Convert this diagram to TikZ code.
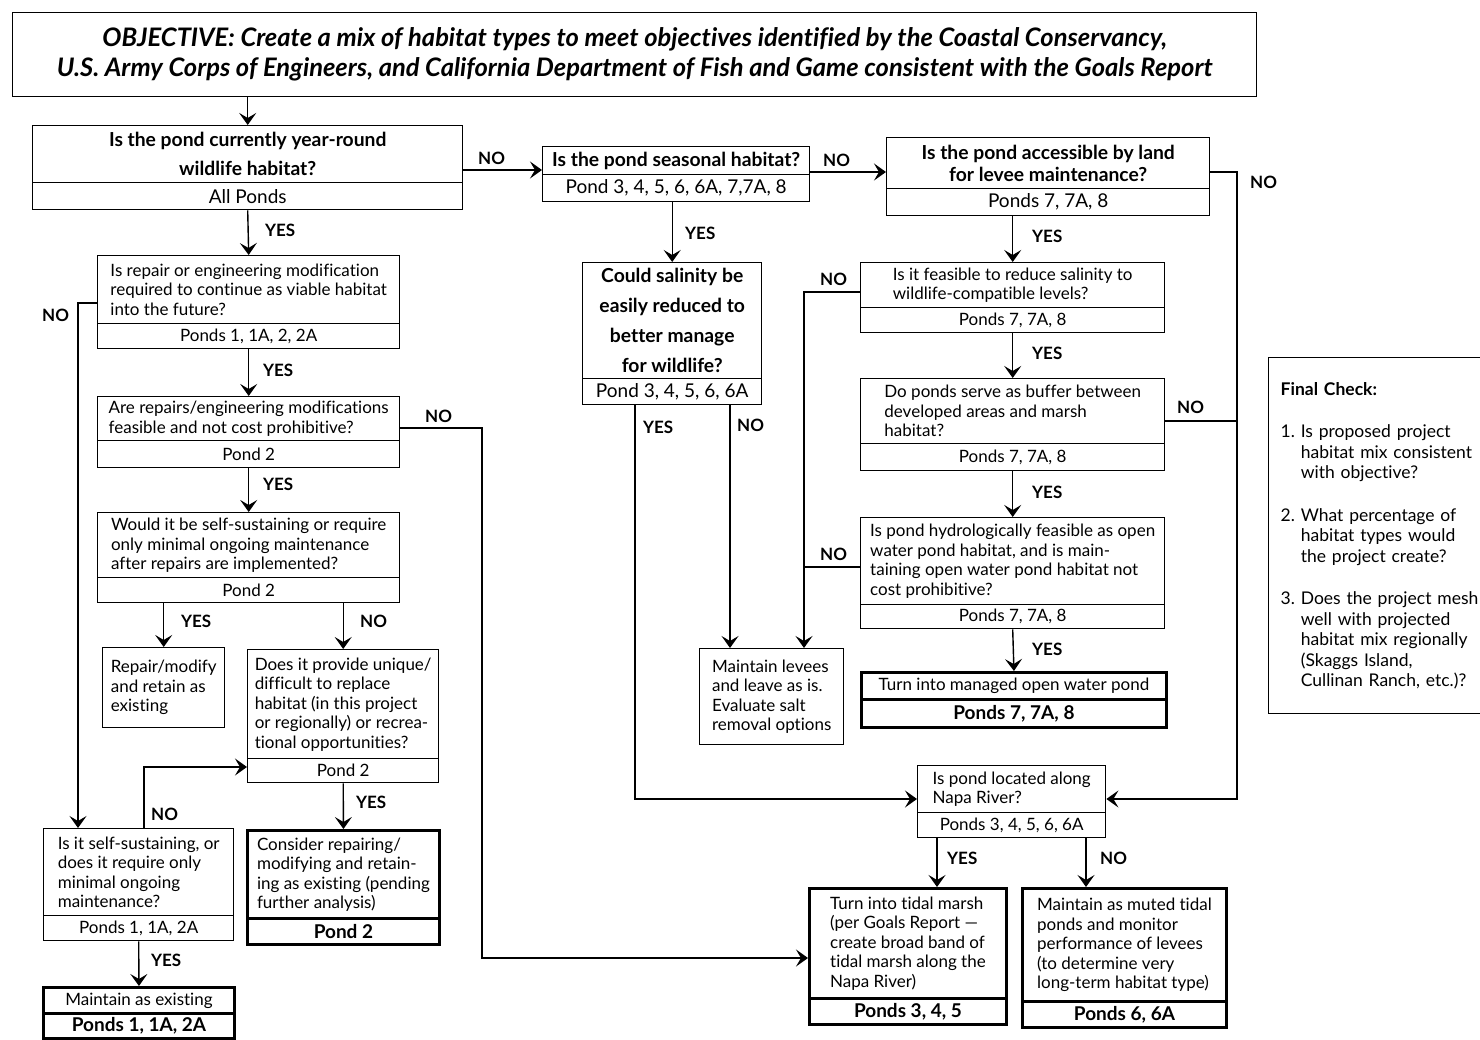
\documentclass[tikz,border=0pt]{standalone}
\usepackage{fontspec}
\setmainfont{Lato}[Ligatures={TeX,NoCommon}]
\usetikzlibrary{arrows.meta,calc}
\newcommand\mkbox[7]{%
  \pgfmathsetmacro\mkw{#4-#2}\pgfmathsetmacro\mkh{#5-#3}%
  \node[box,#6,anchor=north west,minimum width=\mkw pt,minimum height=\mkh pt] (#1) at (#2,#3) {#7};}
\begin{document}
\begin{tikzpicture}[x=1pt,y=-1pt,
  box/.style={draw,line width=1.4pt,inner sep=0pt,font=\fontsize{17}{19.5}\selectfont,align=left},
  ttl/.style={font=\bfseries\fontsize{19.3}{22}\selectfont,align=center},
  pnd/.style={font=\fontsize{17}{18}\selectfont,align=center},
  bigpnd/.style={font=\fontsize{19}{20}\selectfont,align=center},
  bpnd/.style={font=\bfseries\fontsize{19}{20}\selectfont,align=center},
  thk/.style={line width=2.9pt},
  ln/.style={line width=1.4pt},
  arr/.style={line width=1.4pt,-{Stealth[length=12pt,width=17pt,inset=5pt]}},
  lbl/.style={font=\bfseries\fontsize{17}{17}\selectfont,inner sep=0pt,anchor=west}]
\useasboundingbox[fill=white] (0,0) rectangle (1480,1040);

% objective
\mkbox{obj}{12}{12}{1256}{96}{font=\bfseries\itshape\fontsize{25.5}{30}\selectfont,align=center}{OBJECTIVE: Create a mix of habitat types to meet objectives identified by the Coastal Conservancy,\\U.S. Army Corps of Engineers, and California Department of Fish and Game consistent with the Goals Report}

% left column
\mkbox{Aq}{32}{125}{462}{182}{ttl,font=\bfseries\fontsize{19.3}{29}\selectfont}{Is the pond currently year-round\\wildlife habitat?}
\mkbox{Ap}{32}{182}{462}{209}{bigpnd}{All Ponds}
\mkbox{Dq}{97}{255}{399}{323}{}{Is repair or engineering modification\\required to continue as viable habitat\\into the future?}
\mkbox{Dp}{97}{323}{399}{348}{pnd}{Ponds 1, 1A, 2, 2A}
\mkbox{Eq}{97}{396}{399}{440}{}{Are repairs/engineering modifications\\feasible and not cost prohibitive?}
\mkbox{Ep}{97}{440}{399}{467}{pnd}{Pond 2}
\mkbox{Fq}{97}{512}{399}{577}{}{Would it be self-sustaining or require\\only minimal ongoing maintenance\\after repairs are implemented?}
\mkbox{Fp}{97}{577}{399}{602}{pnd}{Pond 2}
\mkbox{G}{102}{647}{224}{727}{}{Repair/modify\\and retain as\\existing}
\mkbox{Hq}{247}{649}{438}{758}{}{Does it provide unique/\\difficult to replace\\habitat (in this project\\or regionally) or recrea-\\tional opportunities?}
\mkbox{Hp}{247}{758}{438}{782}{pnd}{Pond 2}
\mkbox{Iq}{246}{829}{438}{917}{thk}{Consider repairing/\\modifying and retain-\\ing as existing (pending\\further analysis)}
\mkbox{Ip}{246}{917}{438}{943}{thk,bpnd}{Pond 2}
\mkbox{Jq}{43}{828}{233}{915}{}{Is it self-sustaining, or\\does it require only\\minimal ongoing\\maintenance?}
\mkbox{Jp}{43}{915}{233}{940}{pnd}{Ponds 1, 1A, 2A}
\mkbox{Kq}{42}{986}{233}{1012}{thk,align=center}{Maintain as existing}
\mkbox{Kp}{42}{1012}{233}{1037}{thk,bpnd}{Ponds 1, 1A, 2A}

% middle column
\mkbox{Bq}{542}{146}{809}{174}{ttl}{Is the pond seasonal habitat?}
\mkbox{Bp}{542}{174}{809}{201}{bigpnd}{Pond 3, 4, 5, 6, 6A, 7,7A, 8}
\mkbox{Lq}{582}{262}{761}{378}{ttl,font=\bfseries\fontsize{19.3}{30}\selectfont}{Could salinity be\\easily reduced to\\better manage\\for wildlife?}
\mkbox{Lp}{582}{378}{761}{404}{bigpnd}{Pond 3, 4, 5, 6, 6A}
\mkbox{Lev}{699}{648}{843}{744}{}{Maintain levees\\and leave as is.\\Evaluate salt\\removal options}

% right column
\mkbox{Cq}{886}{137}{1209}{188}{ttl}{Is the pond accessible by land\\for levee maintenance?}
\mkbox{Cp}{886}{188}{1209}{215}{bigpnd}{Ponds 7, 7A, 8}
\mkbox{Mq}{860}{262}{1164}{307}{}{Is it feasible to reduce salinity to\\wildlife-compatible levels?}
\mkbox{Mp}{860}{307}{1164}{332}{pnd}{Ponds 7, 7A, 8}
\mkbox{Nq}{860}{378}{1164}{443}{}{Do ponds serve as buffer between\\developed areas and marsh\\habitat?}
\mkbox{Np}{860}{443}{1164}{470}{pnd}{Ponds 7, 7A, 8}
\mkbox{Oq}{860}{517}{1164}{604}{}{Is pond hydrologically feasible as open\\water pond habitat, and is main-\\taining open water pond habitat not\\cost prohibitive?}
\mkbox{Op}{860}{604}{1164}{628}{pnd}{Ponds 7, 7A, 8}
\mkbox{Pq}{860}{671}{1165}{698}{thk,align=center}{Turn into managed open water pond}
\mkbox{Pp}{860}{698}{1165}{726}{thk,bpnd}{Ponds 7, 7A, 8}
\mkbox{Qq}{917}{765}{1105}{812}{}{Is pond located along\\Napa River?}
\mkbox{Qp}{917}{812}{1105}{837}{pnd}{Ponds 3, 4, 5, 6, 6A}
\mkbox{Rq}{808}{887}{1005}{997}{thk}{Turn into tidal marsh\\(per Goals Report —\\create broad band of\\tidal marsh along the\\Napa River)}
\mkbox{Rp}{808}{997}{1005}{1023}{thk,bpnd}{Ponds 3, 4, 5}
\mkbox{Sq}{1021}{887}{1225}{1000}{thk}{Maintain as muted tidal\\ponds and monitor\\performance of levees\\(to determine very\\long-term habitat type)}
\mkbox{Sp}{1021}{1000}{1225}{1026}{thk,bpnd}{Ponds 6, 6A}

% final check
\node[box,anchor=north west,minimum width=250pt,minimum height=356pt,text width=226pt,inner xsep=10pt,font=\fontsize{17.5}{20.5}\selectfont] (fc) at (1268,357) {\textbf{Final Check:}\\[22pt]
1.~Is proposed project\\\hphantom{1.~}habitat mix consistent\\\hphantom{1.~}with objective?\\[22pt]
2.~What percentage of\\\hphantom{2.~}habitat types would\\\hphantom{2.~}the project create?\\[22pt]
3.~Does the project mesh\\\hphantom{3.~}well with projected\\\hphantom{3.~}habitat mix regionally\\\hphantom{3.~}(Skaggs Island,\\\hphantom{3.~}Cullinan Ranch, etc.)?\\[6pt]};

% bend coordinates
\coordinate (ab) at (0,170);
\coordinate (bc) at (0,172);
\coordinate (dn) at (78,303);
\coordinate (en) at (482,428);
\coordinate (rin) at (0,958);
\coordinate (jn) at (144,767);
\coordinate (ly) at (635,799);
\coordinate (lv) at (730,0);
\coordinate (mn) at (804,292);
\coordinate (nn) at (1237,421);
\coordinate (on) at (804,567);
\coordinate (cn) at (1237,172);
\coordinate (qr) at (937,0);
\coordinate (qs) at (1086,0);

% connectors
\draw[arr] (obj.south -| Aq.north) -- (Aq.north);
\draw[arr] (Aq.east |- ab) -- (Bq.west |- ab);
\draw[arr] (Bq.east |- bc) -- (Cq.west |- bc);
\draw[arr] (Ap.south) -- (Dq.north);
\draw[arr] (Dq.west |- dn) -- (dn) -- (Jq.north -| dn);
\draw[arr] (Dp.south) -- (Eq.north);
\draw[arr] (Eq.east |- en) -- (en) -- (en |- rin) -- (Rq.west |- rin);
\draw[arr] (Ep.south) -- (Fq.north);
\draw[arr] (Fp.south -| G.north) -- (G.north);
\draw[arr] (Fp.south -| Hq.north) -- (Hq.north);
\draw[arr] (Hp.south) -- (Iq.north);
\draw[arr] (Jq.north -| jn) -- (jn) -- (Hp.west |- jn);
\draw[arr] (Jp.south) -- (Kq.north);
\draw[arr] (Bp.south -| Lq.north) -- (Lq.north);
\draw[arr] (Lp.south -| ly) -- (ly) -- (Qq.west |- ly);
\draw[arr] (Lp.south -| lv) -- (Lev.north -| lv);
\draw[arr] (Cp.south -| Mq.north) -- (Mq.north);
\draw[arr] (Mq.west |- mn) -- (mn) -- (Lev.north -| mn);
\draw[arr] (Mp.south) -- (Nq.north);
\draw[ln] (Nq.east |- nn) -- (nn);
\draw[arr] (Np.south) -- (Oq.north);
\draw[ln] (Oq.west |- on) -- (on);
\draw[arr] (Op.south) -- (Pq.north);
\draw[arr] (Cq.east |- cn) -- (cn) -- (cn |- ly) -- (Qq.east |- ly);
\draw[arr] (Qp.south -| qr) -- (Rq.north -| qr);
\draw[arr] (Qp.south -| qs) -- (Sq.north -| qs);

% labels
\node[lbl] (l1) at (478,158) {NO};
\node[lbl] (l2) at (823,160) {NO};
\node[lbl] (l3) at (265,230) {YES};
\node[lbl] (l4) at (42,315) {NO};
\node[lbl] (l5) at (263,370) {YES};
\node[lbl] (l6) at (425,416) {NO};
\node[lbl] (l7) at (263,484) {YES};
\node[lbl] (l8) at (181,621) {YES};
\node[lbl] (l9) at (360,621) {NO};
\node[lbl] (l10) at (356,802) {YES};
\node[lbl] (l11) at (151,814) {NO};
\node[lbl] (l12) at (151,960) {YES};
\node[lbl] (l13) at (685,233) {YES};
\node[lbl] (l14) at (643,427) {YES};
\node[lbl] (l15) at (737,425) {NO};
\node[lbl] (l16) at (1032,236) {YES};
\node[lbl] (l17) at (820,279) {NO};
\node[lbl] (l18) at (1032,353) {YES};
\node[lbl] (l19) at (1177,407) {NO};
\node[lbl] (l20) at (1032,492) {YES};
\node[lbl] (l21) at (820,554) {NO};
\node[lbl] (l22) at (1032,649) {YES};
\node[lbl] (l23) at (1250,182) {NO};
\node[lbl] (l24) at (947,858) {YES};
\node[lbl] (l25) at (1100,858) {NO};
\end{tikzpicture}
\end{document}
